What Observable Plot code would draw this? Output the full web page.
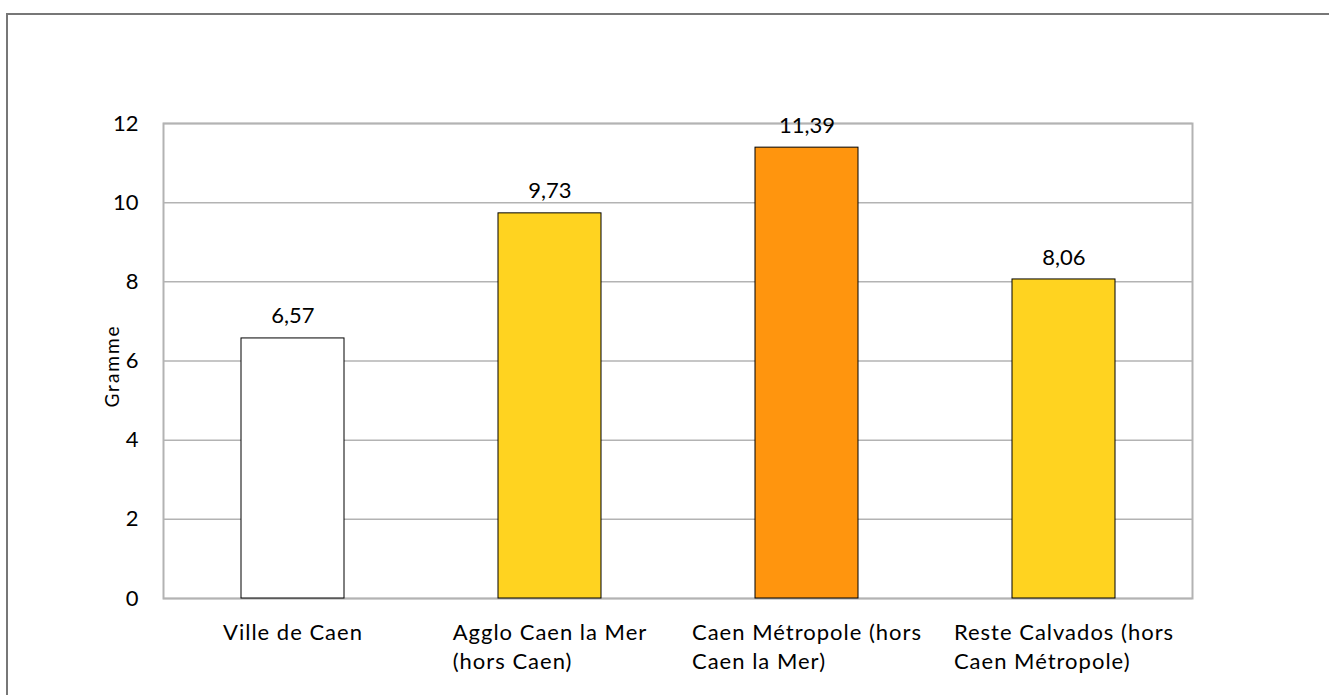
<!DOCTYPE html>
<html><head><meta charset="utf-8">
<script src="https://cdn.jsdelivr.net/npm/d3@7"></script>
<script src="https://cdn.jsdelivr.net/npm/@observablehq/plot@0.6"></script>
<style>
body{margin:0;background:#fff;overflow:hidden;}
#frame{position:absolute;left:6px;top:13px;width:1500px;height:900px;border-left:2px solid #777;border-top:2px solid #777;pointer-events:none;}
#chart{position:absolute;left:0;top:0;}
</style></head>
<body>
<div id="chart"></div>
<div id="frame"></div>
<script>
const categories = ["Ville de Caen", "Agglo Caen la Mer (hors Caen)", "Caen Métropole (hors Caen la Mer)", "Reste Calvados (hors Caen Métropole)"];
const labelLines = [["Ville de Caen"], ["Agglo Caen la Mer", "(hors Caen)"], ["Caen Métropole (hors", "Caen la Mer)"], ["Reste Calvados (hors", "Caen Métropole)"]];
const values = [6.57, 9.73, 11.39, 8.06];
const colors = ["#ffffff", "#ffd320", "#ff950e", "#ffd320"];
const yTicks = [0, 2, 4, 6, 8, 10, 12];
const yTitle = "Gramme";

const data = categories.map((c, i) => ({cat: c, v: values[i], color: colors[i], label: labelLines[i]}));
const font = "Lato, 'Open Sans', sans-serif";
const fs = 22;
const ls = 1; // letter spacing for word labels

const ctx = document.createElement("canvas").getContext("2d");
ctx.font = `${fs}px Lato`;
const textMarks = data.map(d => {
  const w = Math.max(...d.label.map(l => ctx.measureText(l).width + ls * l.length));
  return Plot.text([d], {x: "cat", y: 0, text: d => d.label.join("\n"), textAnchor: "start", lineAnchor: "top",
    dx: -w / 2, dy: 21, lineHeight: 1.32, fontSize: fs, fill: "#000"});
});

const chart = Plot.plot({
  width: 1329, height: 695,
  marginLeft: 163, marginRight: 137, marginTop: 123, marginBottom: 97,
  style: {fontFamily: font, fontSize: fs + "px", color: "#000", background: "transparent"},
  x: {domain: categories, padding: 0.6, paddingOuter: 0.3, axis: null},
  y: {domain: [0, 12], ticks: yTicks, label: null},
  marks: [
    Plot.gridY(yTicks, {stroke: "#b3b3b3", strokeOpacity: 1, strokeWidth: 1.5}),
    Plot.frame({stroke: "#b3b3b3", strokeWidth: 2}),
    Plot.axisY(yTicks, {tickSize: 0, tickPadding: 25, fontSize: fs, label: null}),
    Plot.barY(data, {x: "cat", y: "v", fill: "color", stroke: "#000", strokeWidth: 1}),
    Plot.text(data, {x: "cat", y: "v", text: d => d3.format(".2f")(d.v).replace(".", ","), dy: -22, fontSize: fs, fill: "#000"}),
    ...textMarks,
    Plot.text([yTitle], {frameAnchor: "left", textAnchor: "middle", dx: -51, dy: 5, rotate: -90, fontSize: 19, fill: "#000"})
  ]
});
d3.select(chart).selectAll("text").filter(function() { return /[A-Za-z]/.test(this.textContent); })
  .style("letter-spacing", ls + "px");
d3.select(chart).selectAll("text").filter(function() { return this.textContent === yTitle; })
  .style("font-size", "19px").style("letter-spacing", "2px");
document.getElementById("chart").appendChild(chart);
</script>
</body></html>
